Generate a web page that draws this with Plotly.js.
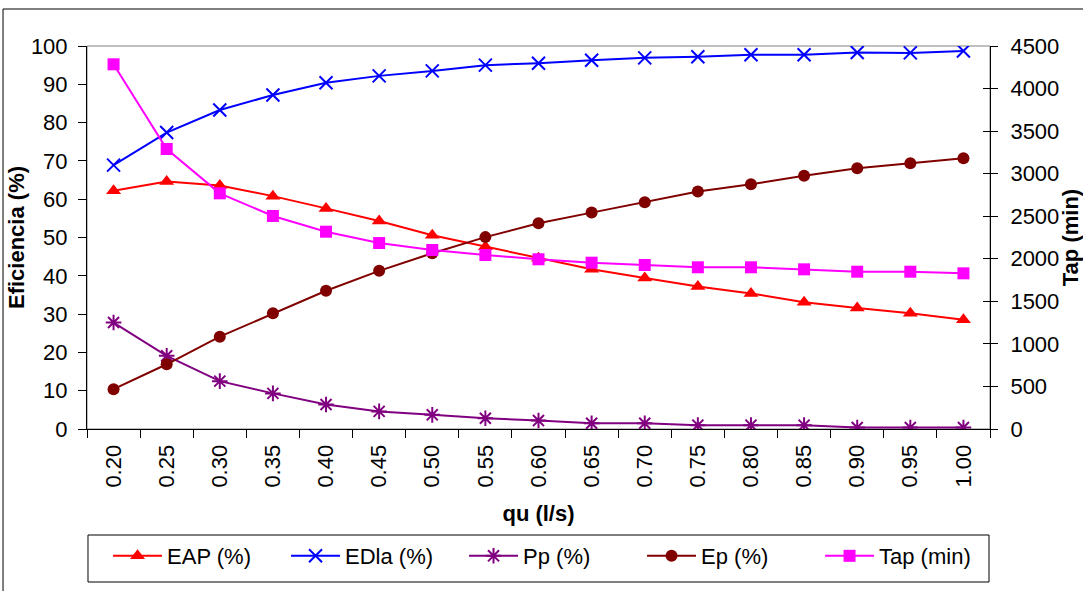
<!DOCTYPE html>
<html>
<head>
<meta charset="utf-8">
<script src="https://cdn.plot.ly/plotly-3.0.1.min.js"></script>
<style>
html,body{margin:0;padding:0;background:#fff;}
#chart{width:1083px;height:591px;}
</style>
</head>
<body>
<div id="chart"></div>
<script>
var qu = ['0.20','0.25','0.30','0.35','0.40','0.45','0.50','0.55','0.60','0.65','0.70','0.75','0.80','0.85','0.90','0.95','1.00'];
var EAP  = [62.2, 64.6, 63.6, 60.8, 57.6, 54.3, 50.6, 47.6, 44.6, 41.7, 39.4, 37.2, 35.4, 33.1, 31.6, 30.2, 28.5];
var EDla = [68.9, 77.4, 83.3, 87.2, 90.4, 92.2, 93.5, 95.0, 95.5, 96.3, 96.9, 97.2, 97.7, 97.7, 98.3, 98.2, 98.7];
var Pp   = [27.8, 19.1, 12.5, 9.3, 6.4, 4.6, 3.7, 2.8, 2.2, 1.5, 1.5, 1.0, 1.0, 1.0, 0.4, 0.4, 0.4];
var Ep   = [10.4, 16.9, 24.1, 30.2, 36.1, 41.3, 45.9, 50.1, 53.7, 56.5, 59.2, 62.0, 63.9, 66.1, 68.1, 69.4, 70.7];
var Tap  = [4285, 3290, 2769, 2503, 2318, 2185, 2103, 2044, 1994, 1954, 1927, 1900, 1900, 1876, 1848, 1848, 1829];

var FONT = 'Liberation Sans, Arial, sans-serif';

var traces = [
  {x: qu, y: EAP, name: 'EAP (%)', type: 'scatter', mode: 'lines+markers',
   line: {color: '#FF0000', width: 2}, marker: {symbol: 'triangle-up', size: 13, color: '#FF0000'}},
  {x: qu, y: EDla, name: 'EDla (%)', type: 'scatter', mode: 'lines+markers',
   line: {color: '#0000FF', width: 2}, marker: {symbol: 'x-thin-open', size: 13, color: '#0000FF', line: {color: '#0000FF', width: 2}}},
  {x: qu, y: Pp, name: 'Pp (%)', type: 'scatter', mode: 'lines+markers',
   line: {color: '#800080', width: 2}, marker: {symbol: 'asterisk-open', size: 13, color: '#800080', line: {color: '#800080', width: 2}}},
  {x: qu, y: Ep, name: 'Ep (%)', type: 'scatter', mode: 'lines+markers',
   line: {color: '#800000', width: 2}, marker: {symbol: 'circle', size: 12, color: '#800000'}},
  {x: qu, y: Tap, name: 'Tap (min)', type: 'scatter', mode: 'lines+markers', yaxis: 'y2',
   line: {color: '#FF00FF', width: 2}, marker: {symbol: 'square', size: 12, color: '#FF00FF'}}
];

var layout = {
  width: 1083, height: 591,
  margin: {l: 87, r: 93, t: 46, b: 162},
  paper_bgcolor: '#fff', plot_bgcolor: '#fff',
  font: {family: FONT, size: 22, color: '#000'},
  showlegend: true,
  xaxis: {
    type: 'category', range: [-0.5, 16.5], tickangle: -90, ticks: 'outside', ticklen: 8, tickcolor: '#000',
    tickson: 'boundaries', showline: true, linecolor: '#000', linewidth: 1,
    showgrid: false, zeroline: false, ticklabelstandoff: 6,
    tickfont: {family: FONT, size: 22, color: '#000'},
    title: {text: 'qu (l/s)', font: {family: FONT, size: 22, color: '#000', weight: 'bold'}, standoff: 18},
    automargin: false
  },
  yaxis: {
    range: [0, 100], dtick: 10, ticks: 'outside', ticklen: 8, tickcolor: '#000',
    showline: true, linecolor: '#000', linewidth: 1, showgrid: false, zeroline: false,
    ticklabelstandoff: 6,
    tickfont: {family: FONT, size: 22, color: '#000'},
    title: {text: 'Eficiencia (%)', font: {family: FONT, size: 22, color: '#000', weight: 'bold'}, standoff: 0},
    automargin: false
  },
  yaxis2: {
    overlaying: 'y', side: 'right', range: [0, 4500], dtick: 500, ticks: 'outside', ticklen: 7,
    tickcolor: '#000', showline: true, linecolor: '#000', linewidth: 1, showgrid: false, zeroline: false,
    ticklabelstandoff: 8,
    tickfont: {family: FONT, size: 22, color: '#000'},
    title: {text: 'Tap (min)', font: {family: FONT, size: 22, color: '#000', weight: 'bold'}, standoff: 18},
    automargin: false
  },
  yaxis3: {
    overlaying: 'y', side: 'right', range: [0, 4500], dtick: 500, ticks: 'inside', ticklen: 7,
    tickcolor: '#000', showticklabels: false, showline: false, showgrid: false, zeroline: false
  },
  legend: {
    orientation: 'h', x: 0.0233, xanchor: 'left', y: -0.2768, yanchor: 'top',
    borderwidth: 0, bgcolor: 'rgba(0,0,0,0)',
    font: {family: FONT, size: 22, color: '#000'},
    itemwidth: 49, entrywidth: 114, entrywidthmode: 'pixels'
  },
  shapes: [
    {type: 'rect', xref: 'paper', yref: 'paper', x0: 0, x1: 1, y0: 0, y1: 1,
     line: {color: '#808080', width: 1}, layer: 'below'},
    {type: 'rect', xref: 'paper', yref: 'paper', x0: -0.093, x1: 1.2, y0: -0.6, y1: 1.0966,
     line: {color: '#000', width: 1}, layer: 'below'},
    {type: 'rect', xref: 'paper', yref: 'paper', x0: 0.0011, x1: 0.9989, y0: -0.3995, y1: -0.2768,
     line: {color: '#000', width: 1}, layer: 'below'}
  ]
};

// empty helper trace so the overlaid tick axis (inside ticks of the right axis) is drawn
traces.push({x: [qu[0]], y: [null], yaxis: 'y3', showlegend: false, hoverinfo: 'skip', type: 'scatter', mode: 'markers'});

Plotly.newPlot('chart', traces, layout, {displayModeBar: false, staticPlot: true});
</script>
</body>
</html>
